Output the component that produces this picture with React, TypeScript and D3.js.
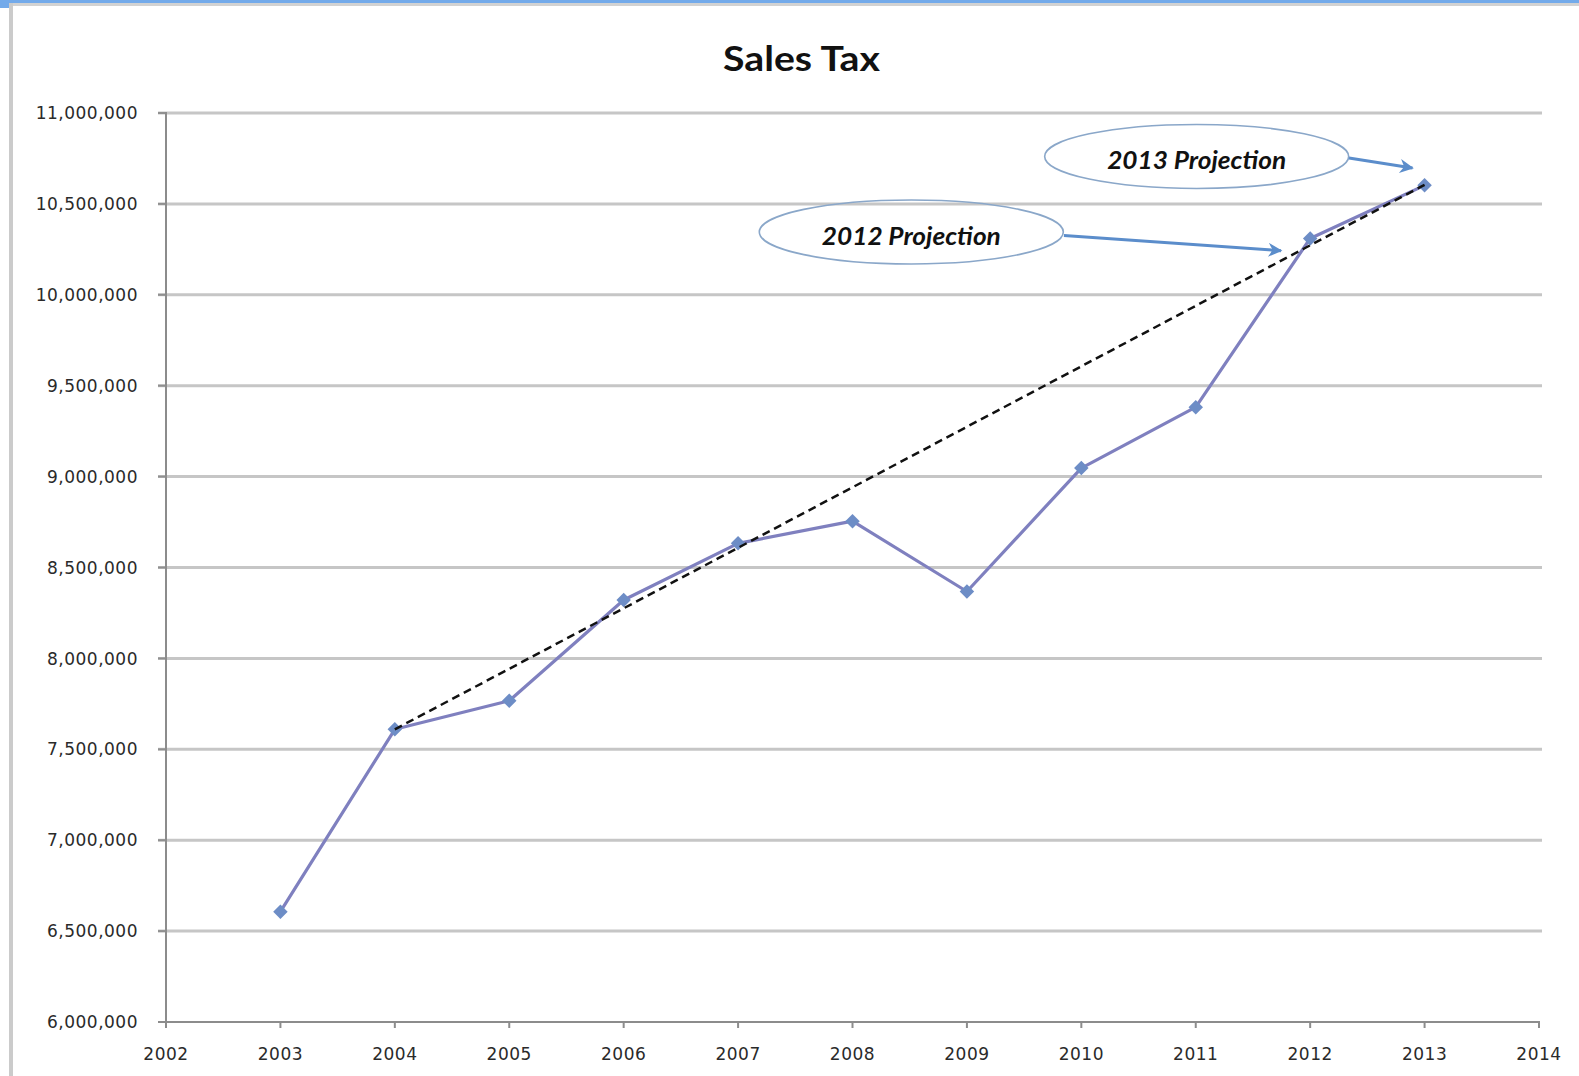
import React from "react";
import * as d3 from "d3";

const years = [2003, 2004, 2005, 2006, 2007, 2008, 2009, 2010, 2011, 2012, 2013];
const salesTax = [6607000, 7610000, 7767000, 8321000, 8633000, 8755000, 8368000, 9047000, 9382000, 10310000, 10602000];
const trendYears = [2004, 2013];
const trendValues = [7610000, 10605000];
const xTicks = [2002, 2003, 2004, 2005, 2006, 2007, 2008, 2009, 2010, 2011, 2012, 2013, 2014];
const yTicks = [6000000, 6500000, 7000000, 7500000, 8000000, 8500000, 9000000, 9500000, 10000000, 10500000, 11000000];
const annotationLabels = ["2013 Projection", "2012 Projection"];
const title = "Sales Tax";

const W = 1579;
const H = 1076;

export default function App() {
  const x = d3.scaleLinear().domain([2002, 2014]).range([166, 1539]);
  const y = d3.scaleLinear().domain([6000000, 11000000]).range([1022, 113]);
  const fmt = d3.format(",");

  const line = d3
    .line<number>()
    .x((_, i) => x(years[i]))
    .y((d) => y(d));

  const trend = d3
    .line<number>()
    .x((_, i) => x(trendYears[i]))
    .y((d) => y(d));

  const diamond = d3.symbol().type(d3.symbolSquare).size(105)() as string;

  // annotation placement (data coordinates)
  const notes = [
    { label: annotationLabels[0], cx: 2011.008, cy: 10761000, from: [2012.339, 10752500], to: [2012.894, 10697500] },
    { label: annotationLabels[1], cx: 2008.514, cy: 10345500, from: [2009.848, 10326000], to: [2011.745, 10242600] },
  ];

  const tickFont = "'DejaVu Sans', Verdana, sans-serif";

  return (
    <svg
      width={W}
      height={H}
      style={{ position: "absolute", left: 0, top: 0, background: "#fff" }}
    >
      <defs>
        <marker
          id="arrowHead"
          viewBox="0 0 10 10"
          refX="9"
          refY="5"
          markerWidth="16"
          markerHeight="14"
          markerUnits="userSpaceOnUse"
          orient="auto"
        >
          <path d="M0,0 L10,5 L0,10 L3,5 Z" fill="#5b8dcb" />
        </marker>
      </defs>

      {/* frame */}
      <rect x={0} y={0} width={W} height={H} fill="#fff" />
      <rect x={0} y={0} width={W} height={3} fill="#73aaea" />
      <rect x={0} y={0} width={9} height={8} fill="#73aaea" />
      <rect x={9} y={3} width={W - 9} height={3} fill="#d2d2d2" />
      <rect x={9} y={3} width={4} height={H - 3} fill="#cbcbcb" />

      {/* title */}
      <text
        x={801.5}
        y={71}
        textAnchor="middle"
        fontFamily="Lato, 'Open Sans', sans-serif"
        fontWeight={700}
        fontSize={35}
        fill="#111"
        textLength={157}
        lengthAdjust="spacingAndGlyphs"
      >
        {title}
      </text>

      {/* gridlines + y ticks */}
      {yTicks.map((t) => (
        <g key={t}>
          {t > 6000000 && (
            <line x1={158} x2={1542} y1={y(t)} y2={y(t)} stroke="#c6c6c6" strokeWidth={3} />
          )}
          <line x1={158} x2={166} y1={y(t)} y2={y(t)} stroke="#909090" strokeWidth={2} />
          <text
            x={138}
            y={y(t)}
            dy="0.36em"
            textAnchor="end"
            fontFamily={tickFont}
            fontSize={17}
            letterSpacing={0.5}
            fill="#2a2a2a"
          >
            {fmt(t)}
          </text>
        </g>
      ))}

      {/* axes */}
      <line x1={166} x2={166} y1={112} y2={1023} stroke="#8c8c8c" strokeWidth={2} />
      <line x1={158} x2={1540} y1={1022} y2={1022} stroke="#8c8c8c" strokeWidth={2} />
      {xTicks.map((t) => (
        <g key={t}>
          <line x1={x(t)} x2={x(t)} y1={1022} y2={1028} stroke="#8c8c8c" strokeWidth={2} />
          <text
            x={x(t)}
            y={1060}
            textAnchor="middle"
            fontFamily={tickFont}
            fontSize={17}
            letterSpacing={0.5}
            fill="#2a2a2a"
          >
            {t}
          </text>
        </g>
      ))}

      {/* series */}
      <path d={line(salesTax) as string} fill="none" stroke="#7f80bf" strokeWidth={3.2} strokeLinejoin="round" />
      {salesTax.map((v, i) => (
        <path
          key={years[i]}
          d={diamond}
          transform={`translate(${x(years[i])},${y(v)}) rotate(45)`}
          fill="#6d8dc6"
        />
      ))}

      {/* trendline */}
      <path d={trend(trendValues) as string} fill="none" stroke="#111" strokeWidth={2.5} strokeDasharray="8,5" />

      {/* annotations */}
      {notes.map((n) => (
        <g key={n.label}>
          <ellipse cx={x(n.cx)} cy={y(n.cy)} rx={152} ry={32} fill="none" stroke="#8aa7c9" strokeWidth={1.6} />
          <text
            x={x(n.cx)}
            y={y(n.cy) + 13}
            textAnchor="middle"
            fontFamily="Lato, 'Open Sans', sans-serif"
            fontWeight={700}
            fontStyle="italic"
            fontSize={25}
            fill="#111"
            textLength={179}
            lengthAdjust="spacingAndGlyphs"
          >
            {n.label}
          </text>
          <line
            x1={x(n.from[0])}
            y1={y(n.from[1])}
            x2={x(n.to[0])}
            y2={y(n.to[1])}
            stroke="#5b8dcb"
            strokeWidth={3}
            markerEnd="url(#arrowHead)"
          />
        </g>
      ))}
    </svg>
  );
}
